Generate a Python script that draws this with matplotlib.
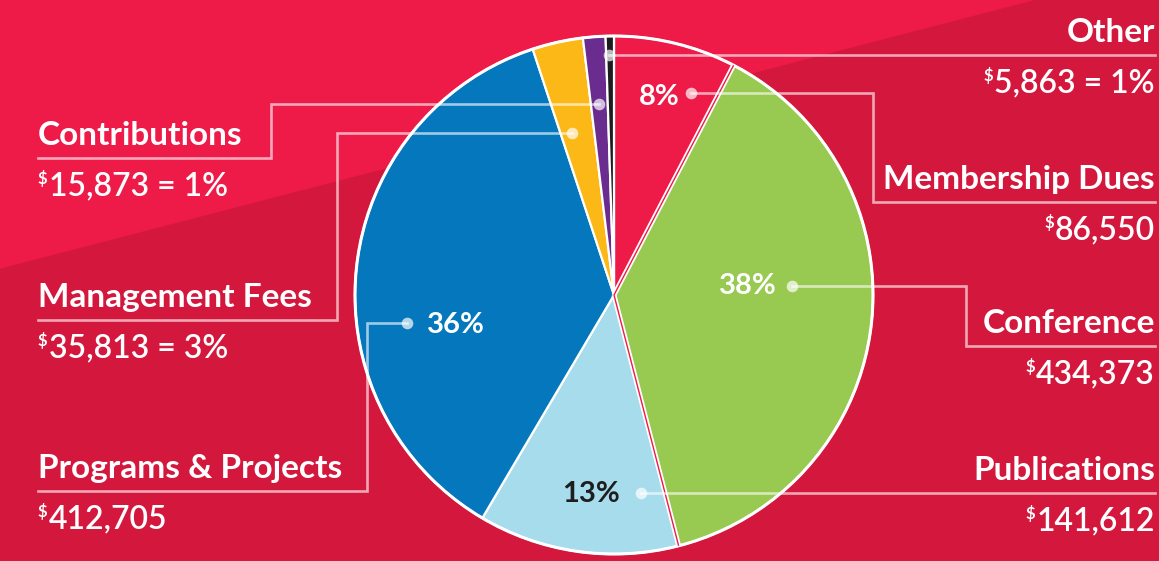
import matplotlib.pyplot as plt
from matplotlib.patches import Polygon, Circle
import numpy as np

plt.rcParams['font.family'] = ['Lato', 'DejaVu Sans']

W, H = 1159, 561

# data (slice order: clockwise from 12 o'clock)
categories = ['Membership Dues', 'Conference', 'Publications', 'Programs & Projects',
              'Management Fees', 'Contributions', 'Other']
amounts = [86550, 434373, 141612, 412705, 35813, 15873, 5863]
slice_colors = ['#EE1A48', '#98C950', '#A6DCEC', '#0477BD', '#FBB817', '#6B2C90', '#1C1C1C']
show_share = [False, False, False, False, True, True, True]

# layout (pixel coords, y down)
label_side = ['right', 'right', 'right', 'left', 'left', 'left', 'right']
leader_paths = [
    [(691, 93), (873, 93), (873, 202), (1155, 202)],
    [(792, 286), (966, 286), (966, 346), (1155, 346)],
    [(641, 493), (1155, 493)],
    [(407, 323), (367, 323), (367, 491), (38, 491)],
    [(572, 133), (337, 133), (337, 320), (38, 320)],
    [(599, 104), (271, 104), (271, 158), (38, 158)],
    [(609, 55), (1155, 55)],
]
pct_pos = {0: (680, 97, 'right', 'white'), 1: (777, 286, 'right', 'white'),
           2: (620, 494, 'right', '#1E1E1E'), 3: (427, 325, 'left', 'white')}

cx, cy, r = 614, 295, 259
bright, dark = '#EE1A48', '#D4183D'

fig = plt.figure(figsize=(W / 100, H / 100), dpi=100)
ax = fig.add_axes([0, 0, 1, 1])

# pie (y axis gets inverted, so counterclock=True reads clockwise on screen)
ax.pie(amounts, colors=slice_colors, startangle=-90, counterclock=True,
       center=(cx, cy), radius=r,
       wedgeprops=dict(edgecolor='white', linewidth=1.6, zorder=3))
ax.add_patch(Circle((cx, cy), r, fill=False, edgecolor='white', lw=2.2, zorder=4))

# white/red double rule on both sides of the conference slice
total = sum(amounts)
bounds = -90 + 360 * np.cumsum([0] + amounts) / total
for th in (bounds[1], bounds[2]):
    t = np.deg2rad(th)
    xs = [cx, cx + r * np.cos(t)]
    ys = [cy, cy + r * np.sin(t)]
    ax.plot(xs, ys, color='white', lw=3.6, zorder=5, solid_capstyle='butt')
    ax.plot(xs, ys, color=bright, lw=1.0, zorder=6, solid_capstyle='butt')

ax.set_xlim(0, W)
ax.set_ylim(H, 0)
ax.set_aspect('auto')
ax.axis('off')

# background: darker base with bright diagonal band top-left
ax.add_patch(Polygon([(0, 0), (W, 0), (W, H), (0, H)], closed=True, color=dark, zorder=0))
ax.add_patch(Polygon([(0, 0), (1032, 0), (0, 268)], closed=True, color=bright, zorder=0.5))

fig.canvas.draw()
rend = fig.canvas.get_renderer()
inv = ax.transData.inverted()

name_size, val_size = 24, 23

for i, cat in enumerate(categories):
    path = leader_paths[i]
    xs, ys = zip(*path)
    ax.plot(xs, ys, color='white', alpha=0.62, lw=1.9, zorder=7, solid_joinstyle='miter')
    ax.scatter([xs[0]], [ys[0]], s=70, color='white', alpha=0.7, zorder=8, linewidths=0)
    ly = ys[-1]
    share = round(100 * amounts[i] / total)
    val = f'{amounts[i]:,}' + (f' = {share}%' if show_share[i] else '')
    if label_side[i] == 'left':
        x0 = 38
        ax.text(x0, ly - 13, cat, ha='left', va='baseline', fontsize=name_size,
                fontweight='bold', color='white', zorder=9)
        d = ax.text(x0, ly + 12, '$', ha='left', va='top', fontsize=12,
                    fontweight='bold', color='white', zorder=9)
        bb = d.get_window_extent(rend)
        xr = inv.transform((bb.x1, 0))[0]
        ax.text(xr + 1, ly + 37, val, ha='left', va='baseline', fontsize=val_size,
                fontweight='semibold', color='white', zorder=9)
    else:
        x1 = 1155
        ax.text(x1, ly - 13, cat, ha='right', va='baseline', fontsize=name_size,
                fontweight='bold', color='white', zorder=9)
        t = ax.text(x1, ly + 37, val, ha='right', va='baseline', fontsize=val_size,
                    fontweight='semibold', color='white', zorder=9)
        bb = t.get_window_extent(rend)
        xl = inv.transform((bb.x0, 0))[0]
        ax.text(xl - 1, ly + 12, '$', ha='right', va='top', fontsize=12,
                fontweight='bold', color='white', zorder=9)

for i, (px, py, ha, col) in pct_pos.items():
    share = round(100 * amounts[i] / total)
    ax.text(px, py, f'{share}%', ha=ha, va='center', fontsize=21,
            fontweight='bold', color=col, zorder=9)

fig.savefig('out.png', dpi=100, facecolor=dark)
